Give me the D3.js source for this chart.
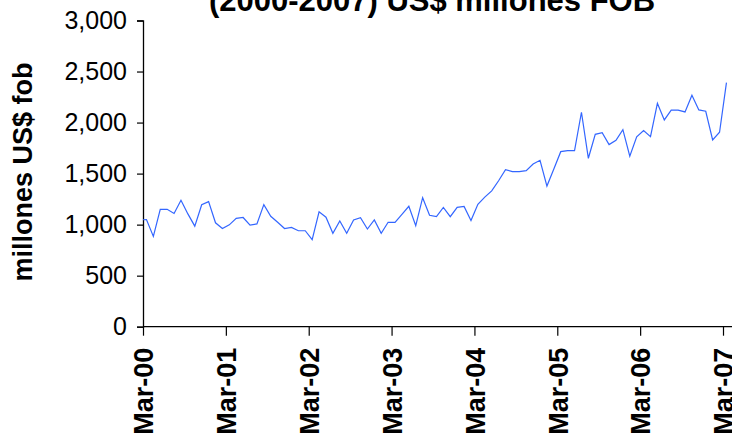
<!DOCTYPE html>
<html>
<head>
<meta charset="utf-8">
<script src="https://cdn.jsdelivr.net/npm/d3@7"></script>
<style>
  html, body { margin: 0; padding: 0; background: #fff; }
  svg { display: block; font-family: "Liberation Sans", Arial, sans-serif; }
</style>
</head>
<body>
<svg id="chart" width="732" height="435"></svg>
<script>
// Monthly exports, Feb-00 (clipped at axis) .. Mar-07, US$ millions FOB
const monthLabels = (() => {
  const m = ["Jan","Feb","Mar","Apr","May","Jun","Jul","Aug","Sep","Oct","Nov","Dec"];
  const out = [];
  for (let yr = 2000, mo = 1; !(yr === 2007 && mo === 3); ) {
    out.push(m[mo] + "-" + String(yr % 100).padStart(2, "0"));
    mo++; if (mo === 12) { mo = 0; yr++; }
  }
  return out;
})();
const values = [
  1046,
  1050, 885, 1150, 1150, 1110, 1238, 1105, 985, 1195, 1225, 1018, 962,
  998, 1062, 1070, 995, 1007, 1196, 1082, 1023, 962, 972, 940, 940,
  852, 1126, 1073, 915, 1035, 915, 1046, 1068, 957, 1046, 915, 1023,
  1023, 1101, 1180, 990, 1264, 1092, 1078, 1168, 1078, 1170, 1178, 1040,
  1200, 1269, 1331, 1430, 1539, 1519, 1519, 1529, 1594, 1630, 1378, 1545,
  1715, 1725, 1725, 2101, 1650, 1885, 1901, 1784, 1827, 1931, 1670, 1860,
  1921, 1862, 2189, 2026, 2121, 2121, 2104, 2268, 2124, 2111, 1830, 1905,
  2391
];
const xTickLabels = ["Mar-00","Mar-01","Mar-02","Mar-03","Mar-04","Mar-05","Mar-06","Mar-07"];
const yTicks = [0, 500, 1000, 1500, 2000, 2500, 3000];
const titleText = "(2000-2007) US$ millones FOB";
const yTitle = "millones US$ fob";

(function draw() {
const svg = d3.select("#chart");
const pLeft = 143, pRight = 723, pTop = 20.5, pBottom = 326.7;

// month index: 0 = Mar-00 tick; points sit mid-month
const x = d3.scaleLinear().domain([0, 84]).range([pLeft, pRight]);
const y = d3.scaleLinear().domain([0, 3000]).range([pBottom, pTop]);

const data = values.map((v, i) => ({ label: monthLabels[i] || "", idx: i - 1 + 0.5, v }));

svg.append("defs").append("clipPath").attr("id", "plot")
  .append("rect").attr("x", pLeft).attr("y", 0).attr("width", 732 - pLeft).attr("height", pBottom + 1);

// title
svg.append("text").attr("x", 432).attr("y", 11)
  .attr("text-anchor", "middle").attr("font-weight", "bold").attr("font-size", 31)
  .text(titleText);

// y axis
const yAxis = d3.axisLeft(y).tickValues(yTicks).tickSize(6).tickPadding(10)
  .tickFormat(d3.format(","));
const gy = svg.append("g").attr("transform", `translate(${pLeft},0)`).call(yAxis);
gy.select(".domain").attr("stroke", "#000").attr("stroke-width", 1.3);
gy.selectAll(".tick line").attr("stroke", "#000").attr("stroke-width", 1.2);
gy.selectAll(".tick text").attr("font-size", 25).attr("fill", "#000")
  .attr("font-family", "'Liberation Sans', Arial, sans-serif");

// x axis
const xAxis = d3.axisBottom(x).tickValues(d3.range(0, 85, 12)).tickSize(9)
  .tickFormat((d, i) => xTickLabels[i]);
const gx = svg.append("g").attr("transform", `translate(0,${pBottom})`).call(xAxis);
gx.select(".domain").attr("d", `M${pLeft},0H732`).attr("stroke", "#000").attr("stroke-width", 1.3);
gx.selectAll(".tick line").attr("stroke", "#000").attr("stroke-width", 1.2);
gx.selectAll(".tick text")
  .attr("font-size", 27).attr("font-weight", "bold").attr("fill", "#000")
  .attr("font-family", "'Liberation Sans', Arial, sans-serif")
  .attr("text-anchor", "end")
  .attr("transform", "rotate(-90)")
  .attr("x", -21).attr("y", 0).attr("dy", "0.36em");

// y title
svg.append("text")
  .attr("transform", `translate(32,172) rotate(-90)`)
  .attr("text-anchor", "middle").attr("font-weight", "bold").attr("font-size", 27)
  .text(yTitle);

// line
const line = d3.line().x(d => x(d.idx)).y(d => y(d.v));
svg.append("path").datum(data)
  .attr("clip-path", "url(#plot)")
  .attr("fill", "none").attr("stroke", "#3366ff").attr("stroke-width", 1.2)
  .attr("d", line);
})();
</script>
</body>
</html>
